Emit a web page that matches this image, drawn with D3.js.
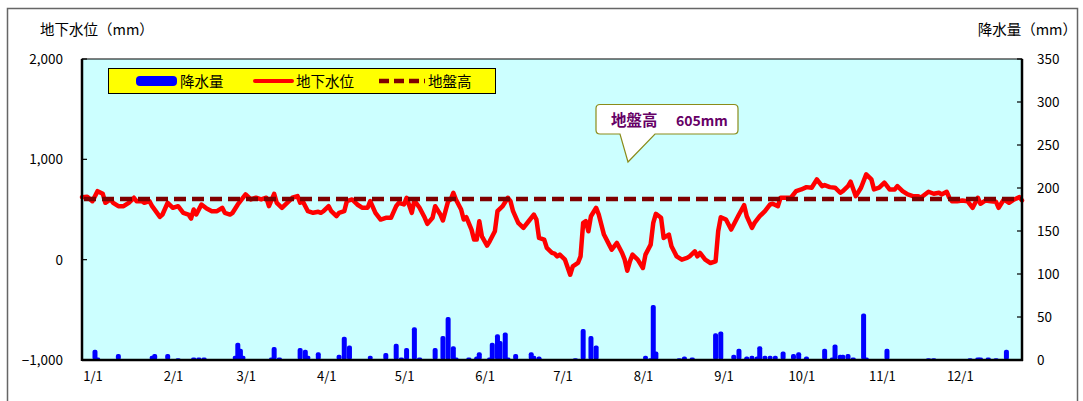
<!DOCTYPE html>
<html><head><meta charset="utf-8">
<script src="https://cdn.jsdelivr.net/npm/d3@7/dist/d3.min.js"></script>
<style>body{margin:0;background:#fff}svg{display:block}text{font-family:"Noto Sans CJK JP","Liberation Sans",sans-serif}</style>
</head><body><svg id="c" width="1083" height="401"></svg>
<script>
// day index (0 = Jan 1) and groundwater level (mm)
const levelDays = [0,2,4,6,8,9,11,12,14,16,18,20,21,23,24,26,27,30,31,33,35,37,39,41,42,43,44,46,48,50,52,54,55,57,58,60,63,65,67,69,71,72,74,75,77,79,81,83,84,85,87,89,91,92,93,95,96,98,99,101,102,104,106,108,110,111,113,115,117,119,121,122,124,125,127,128,130,132,133,135,136,138,139,141,142,143,144,146,147,148,150,151,152,153,154,156,157,159,160,162,164,165,166,168,170,172,174,175,176,178,179,181,182,183,184,186,188,189,191,192,193,194,195,196,198,199,201,203,204,206,208,209,210,211,212,214,216,217,219,220,221,223,224,226,227,229,231,233,234,236,237,238,240,242,244,245,246,248,250,252,253,255,256,258,259,261,263,265,266,268,269,271,273,275,277,279,281,283,285,286,288,290,292,293,295,296,298,300,302,304,305,307,309,311,313,314,316,318,320,322,323,326,328,330,331,333,334,335,337,339,341,343,345,346,348,350,352,353,355,357,359,361,362];
const levels = [623,627,583,683,657,567,600,567,533,533,567,617,583,583,567,583,533,427,450,567,517,533,467,450,410,500,450,550,510,483,483,517,467,450,467,550,650,600,617,600,617,533,657,567,517,567,617,633,567,583,483,467,477,467,483,533,483,433,467,483,583,600,550,517,517,583,467,400,417,417,533,567,550,617,467,590,517,417,357,417,533,450,390,583,600,667,600,500,400,423,300,200,200,383,233,140,183,283,483,533,617,583,483,367,317,383,450,400,217,200,117,67,60,33,50,0,-150,-67,-33,33,367,383,283,433,517,450,250,150,100,167,67,0,-110,-17,50,0,-83,50,150,367,457,417,217,250,133,33,0,17,33,83,33,67,0,-33,-17,283,423,400,300,400,450,543,433,317,367,433,483,550,557,533,617,617,617,683,700,723,717,800,733,743,723,717,667,683,733,777,633,717,850,800,700,717,767,700,700,733,683,650,633,633,617,677,657,667,650,677,617,583,583,590,583,517,617,557,590,583,577,517,600,567,600,623,590];
// day index and daily precipitation (mm)
const rainDays = [5,6,14,27,28,33,37,43,45,47,59,60,61,62,73,74,76,84,86,87,91,99,101,103,111,117,121,123,125,128,130,136,139,141,143,144,149,152,153,157,158,160,161,163,164,167,173,174,176,190,193,196,198,217,219,220,221,230,232,235,244,246,251,253,256,258,260,261,263,265,267,270,274,276,279,286,289,290,292,293,295,297,301,302,310,326,328,342,345,346,349,352,356];
const rain = [12,3,7,5,7,7,2,3,3,3,5,20,13,5,3,15,3,14,12,5,9,6,27,17,5,8,19,3,14,38,3,14,28,50,16,3,3,4,9,3,20,30,22,32,3,7,9,5,4,2,36,28,17,5,2,64,10,2,4,3,31,33,6,13,4,5,4,16,5,5,5,10,7,9,4,13,3,18,6,6,7,3,54,3,13,2,2,2,3,3,3,2,12];
const groundLevel = 605;
const leftTicks = [-1000, 0, 1000, 2000];
const rightTicks = [0, 50, 100, 150, 200, 250, 300, 350];
const monthStarts = [0,31,59,90,120,151,181,212,243,273,304,334];
const monthLabels = ["1/1","2/1","3/1","4/1","5/1","6/1","7/1","8/1","9/1","10/1","11/1","12/1"];

const svg = d3.select("#c");
const L = 82, R = 1022, T = 59, B = 360;
const x = d3.scaleLinear().domain([0, 362]).range([L, R]);
const yL = d3.scaleLinear().domain([-1000, 2000]).range([B, T]);
const yR = d3.scaleLinear().domain([0, 350]).range([B, T]);

svg.append("rect").attr("x",7.5).attr("y",8.5).attr("width",1070).attr("height",400)
  .attr("fill","#fff").attr("stroke","#666").attr("stroke-width",1.5);
svg.append("rect").attr("x",L).attr("y",T).attr("width",R-L).attr("height",B-T)
  .attr("fill","#CCFFFF").attr("stroke","#000").attr("stroke-width",1);

// rain bars
svg.append("g").selectAll("rect").data(rainDays).join("rect")
  .attr("x", (d)=>x(d)-2.5).attr("width",5)
  .attr("y", (d,i)=>yR(rain[i])).attr("height",(d,i)=>B-yR(rain[i]))
  .attr("rx",2).attr("fill","#0000FF");

// groundwater line
const pts = levelDays.map((d,i)=>[d, levels[i]]);
svg.append("path").datum(pts)
  .attr("d", d3.line().x(d=>x(d[0])).y(d=>yL(d[1])))
  .attr("fill","none").attr("stroke","#FF0000").attr("stroke-width",4.5)
  .attr("stroke-linejoin","round").attr("stroke-linecap","round");

// ground level dashed
svg.append("line").attr("x1",L+2).attr("x2",R).attr("y1",yL(groundLevel)).attr("y2",yL(groundLevel))
  .attr("stroke","#800000").attr("stroke-width",4.5).attr("stroke-dasharray","12,6");

// axes
const ax = svg.append("g");
ax.append("line").attr("x1",L).attr("x2",L).attr("y1",T).attr("y2",B+1).attr("stroke","#000").attr("stroke-width",2.5);
ax.append("line").attr("x1",R).attr("x2",R).attr("y1",T).attr("y2",B+1).attr("stroke","#000").attr("stroke-width",2.5);
ax.append("line").attr("x1",L).attr("x2",R+1).attr("y1",B).attr("y2",B).attr("stroke","#000").attr("stroke-width",2.5);

const fmt = d3.format(",");
leftTicks.forEach(v=>{
  ax.append("line").attr("x1",L).attr("x2",L+5).attr("y1",yL(v)).attr("y2",yL(v)).attr("stroke","#000").attr("stroke-width",1.2);
  ax.append("text").attr("x",63).attr("y",yL(v)+5).attr("text-anchor","end")
    .attr("font-family","Liberation Sans").attr("font-size",13.5).attr("fill","#000").text(fmt(v));
});
rightTicks.forEach(v=>{
  ax.append("line").attr("x1",R-5).attr("x2",R).attr("y1",yR(v)).attr("y2",yR(v)).attr("stroke","#000").attr("stroke-width",1.2);
  ax.append("text").attr("x",1037).attr("y",yR(v)+5).attr("text-anchor","start")
    .attr("font-family","Liberation Sans").attr("font-size",13.5).attr("fill","#000").text(v);
});
monthStarts.forEach((d,i)=>{
  ax.append("text").attr("x",x(d)+11).attr("y",381).attr("text-anchor","middle")
    .attr("font-size",13).attr("fill","#000").text(monthLabels[i]);
});

svg.append("text").attr("x",40).attr("y",35).attr("font-size",14.5).text("地下水位（mm）");
svg.append("text").attr("x",1077).attr("y",35).attr("text-anchor","end").attr("font-size",14.5).text("降水量（mm）");

// legend
const lg = svg.append("g");
lg.append("rect").attr("x",108.5).attr("y",68.5).attr("width",387).attr("height",25).attr("fill","#FFFF00").attr("stroke","#000");
lg.append("rect").attr("x",136).attr("y",76).attr("width",41).attr("height",10).attr("rx",4).attr("fill","#0000FF");
lg.append("text").attr("x",180).attr("y",86.5).attr("font-size",14.5).text("降水量");
lg.append("line").attr("x1",255).attr("x2",292).attr("y1",81).attr("y2",81).attr("stroke","#FF0000").attr("stroke-width",4).attr("stroke-linecap","round");
lg.append("text").attr("x",296).attr("y",86.5).attr("font-size",14.5).text("地下水位");
lg.append("line").attr("x1",379).attr("x2",425).attr("y1",81).attr("y2",81).attr("stroke","#800000").attr("stroke-width",4.5).attr("stroke-dasharray","10,5");
lg.append("text").attr("x",428).attr("y",86.5).attr("font-size",14.5).text("地盤高");

// callout
const co = svg.append("g");
co.append("path").attr("d","M600,104.5 H734 Q738,104.5 738,108.5 V130 Q738,134 734,134 H655 L628,162 L620,134 H600 Q596,134 596,130 V108.5 Q596,104.5 600,104.5 Z")
  .attr("fill","#fff").attr("stroke","#8B8B1A").attr("stroke-width",1.2);
co.append("text").attr("x",611).attr("y",126).attr("font-size",15.5).attr("font-weight","bold").attr("fill","#660066").text("地盤高");
co.append("text").attr("x",676).attr("y",126).attr("font-size",14).attr("font-weight","bold").attr("font-family","Liberation Sans").attr("fill","#660066").text("605mm");
</script></body></html>
